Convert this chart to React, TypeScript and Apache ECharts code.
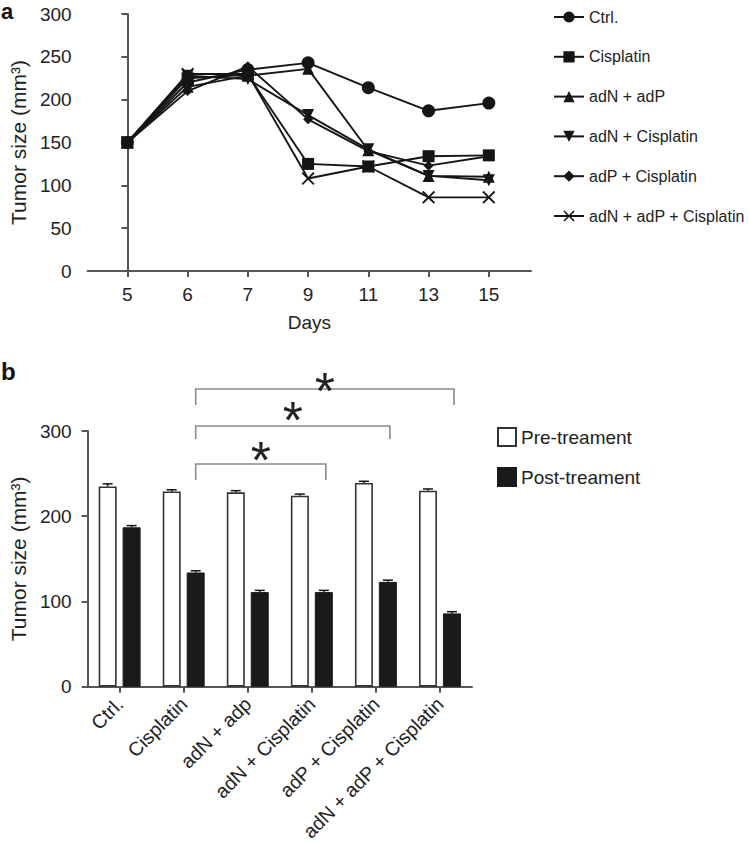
import React, { useEffect, useRef } from "react";
import * as echarts from "echarts";

// ---------- Panel a data ----------
const days = ["5", "6", "7", "9", "11", "13", "15"];
const ctrl = [150, 220, 235, 243, 214, 187, 196];
const cisplatin = [150, 225, 229, 125, 122, 134, 135];
const adNadP = [150, 215, 228, 236, 141, 111, 110];
const adNCis = [150, 228, 224, 182, 142, 111, 106];
const adPCis = [150, 210, 239, 177, 140, 123, 134];
const adNadPCis = [150, 230, 230, 108, 122, 86, 86];

// ---------- Panel b data ----------
const groups = ["Ctrl.", "Cisplatin", "adN + adp", "adN + Cisplatin", "adP + Cisplatin", "adN + adP + Cisplatin"];
const preTreat = [235, 229, 228, 224, 239, 230];
const postTreat = [187, 134, 111, 111, 123, 86];
const preErr = [3, 2, 2, 2, 2, 2];
const postErr = [2, 2, 2, 2, 2, 2];
// significance comparisons: [from group, to group]
const sigPairs = [
  [1, 3],
  [1, 4],
  [1, 5],
];

const FONT = "'Liberation Sans', Arial, Helvetica, sans-serif";
const TXT = "#222";
const AX = "#555";
const INK = "#151515";
const XPATH = "path://M1,0 L5,4 L9,0 L10,1 L6,5 L10,9 L9,10 L5,6 L1,10 L0,9 L4,5 L0,1 Z";

const toPts = (arr: number[]) => arr.map((v, i) => [i, v]);

const lineSeries = (name: string, data: number[], symbol: string, size: number, rotate = 0) => ({
  name,
  type: "line",
  xAxisIndex: 0,
  yAxisIndex: 0,
  data: toPts(data),
  symbol,
  symbolSize: size,
  symbolRotate: rotate,
  showAllSymbol: true,
  lineStyle: { color: INK, width: 1.9 },
  itemStyle: { color: INK, borderColor: INK, borderWidth: 0 },
  emphasis: { disabled: true },
  z: 3,
});

const errSeries = (vals: number[], errs: number[], offset: number) => ({
  type: "custom",
  xAxisIndex: 1,
  yAxisIndex: 1,
  silent: true,
  z: 5,
  data: vals.map((v, i) => [i, v, errs[i]]),
  renderItem: (params: any, api: any) => {
    const i = api.value(0);
    const v = api.value(1);
    const e = api.value(2);
    const p0 = api.coord([i, v]);
    const p1 = api.coord([i, v + e]);
    const x = p0[0] + offset;
    return {
      type: "group",
      children: [
        { type: "line", shape: { x1: x, y1: p0[1], x2: x, y2: p1[1] }, style: { stroke: INK, lineWidth: 1.5 } },
        { type: "line", shape: { x1: x - 5, y1: p1[1], x2: x + 5, y2: p1[1] }, style: { stroke: INK, lineWidth: 1.5 } },
      ],
    };
  },
});

export default function App() {
  const ref = useRef<HTMLDivElement>(null);

  useEffect(() => {
    document.body.style.margin = "0";
    const chart = echarts.init(ref.current as HTMLDivElement, null, { renderer: "svg" });

    const axisLabelStyle = { color: TXT, fontSize: 19, fontFamily: FONT };
    const option: any = {
      animation: false,
      textStyle: { fontFamily: FONT, color: TXT },
      grid: [
        { left: 85, top: 14, width: 446, height: 257 },
        { left: 84, top: 431, width: 388, height: 257 },
      ],
      legend: [
        {
          data: ["Ctrl.", "Cisplatin", "adN + adP", "adN + Cisplatin", "adP + Cisplatin", "adN + adP + Cisplatin"],
          orient: "vertical",
          left: 548,
          top: 4,
          itemWidth: 30,
          itemHeight: 14,
          itemGap: 23.8,
          textStyle: { fontSize: 16, color: TXT, fontFamily: FONT },
          selectedMode: false,
        },
        {
          data: ["Pre-treament", "Post-treament"],
          orient: "vertical",
          left: 492,
          top: 422,
          icon: "rect",
          itemWidth: 18,
          itemHeight: 18,
          itemGap: 20,
          textStyle: { fontSize: 19, color: TXT, fontFamily: FONT },
          selectedMode: false,
        },
      ],
      xAxis: [
        {
          gridIndex: 0,
          type: "value",
          min: -0.66,
          max: 6.7,
          splitLine: { show: false },
          axisLine: { show: true, lineStyle: { color: AX, width: 2 } },
          axisTick: { show: true, length: 6, lineStyle: { color: AX, width: 2 }, customValues: [0, 1, 2, 3, 4, 5, 6] },
          axisLabel: {
            ...axisLabelStyle,
            margin: 14,
            customValues: [0, 1, 2, 3, 4, 5, 6],
            formatter: (v: number) => days[Math.round(v)],
          },
          name: "Days",
          nameLocation: "middle",
          nameGap: 42,
          nameTextStyle: { fontSize: 19, color: TXT, fontFamily: FONT },
        },
        {
          gridIndex: 1,
          type: "category",
          data: groups,
          axisLine: { show: true, lineStyle: { color: AX, width: 2 } },
          axisTick: { show: true, alignWithLabel: true, length: 6, lineStyle: { color: AX, width: 2 } },
          axisLabel: { ...axisLabelStyle, fontSize: 19.5, rotate: 45, interval: 0, margin: 14 },
        },
      ],
      yAxis: [
        {
          gridIndex: 0,
          type: "value",
          min: 0,
          max: 300,
          interval: 50,
          splitLine: { show: false },
          axisLine: { show: true, lineStyle: { color: AX, width: 2 } },
          axisTick: { show: true, length: 6, lineStyle: { color: AX, width: 2 } },
          axisLabel: { ...axisLabelStyle, margin: 16 },
          name: "Tumor size (mm³)",
          nameLocation: "middle",
          nameGap: 54,
          nameTextStyle: { fontSize: 21, color: TXT, fontFamily: FONT },
        },
        {
          gridIndex: 1,
          type: "value",
          min: 0,
          max: 300,
          interval: 100,
          splitLine: { show: false },
          axisLine: { show: true, lineStyle: { color: AX, width: 2 } },
          axisTick: { show: true, length: 6, lineStyle: { color: AX, width: 2 } },
          axisLabel: { ...axisLabelStyle, margin: 16 },
          name: "Tumor size (mm³)",
          nameLocation: "middle",
          nameGap: 54,
          nameTextStyle: { fontSize: 21, color: TXT, fontFamily: FONT },
        },
      ],
      series: [
        lineSeries("Ctrl.", ctrl, "circle", 13),
        lineSeries("Cisplatin", cisplatin, "rect", 12),
        lineSeries("adN + adP", adNadP, "triangle", 12),
        lineSeries("adN + Cisplatin", adNCis, "triangle", 12, 180),
        lineSeries("adP + Cisplatin", adPCis, "diamond", 10),
        lineSeries("adN + adP + Cisplatin", adNadPCis, XPATH, 13),
        {
          name: "Pre-treament",
          type: "bar",
          xAxisIndex: 1,
          yAxisIndex: 1,
          data: preTreat,
          barWidth: 18,
          barGap: "33%",
          itemStyle: { color: "#fff", borderColor: "#333", borderWidth: 1.6 },
          emphasis: { disabled: true },
        },
        {
          name: "Post-treament",
          type: "bar",
          xAxisIndex: 1,
          yAxisIndex: 1,
          data: postTreat,
          barWidth: 18,
          barGap: "33%",
          itemStyle: { color: "#1a1a1a", borderColor: "#1a1a1a", borderWidth: 1 },
          emphasis: { disabled: true },
        },
        errSeries(preTreat, preErr, -12),
        errSeries(postTreat, postErr, 12),
      ],
    };
    chart.setOption(option);

    // significance brackets (annotation layout, in pixel offsets above the 300 line)
    const bracketRise = [-33, 5, 42];
    const legDrop = [16, 13, 16];
    const starRise = [20, 22, 14];
    const graphics: any[] = [
      { type: "text", left: 1, top: 0, style: { text: "a", font: `bold 22px ${FONT}`, fill: "#111" } },
      { type: "text", left: 1, top: 359, style: { text: "b", font: `bold 24px ${FONT}`, fill: "#111" } },
    ];
    sigPairs.forEach(([a, b], k) => {
      const top300 = chart.convertToPixel({ xAxisIndex: 1, yAxisIndex: 1 } as any, [a, 300]) as number[];
      const pa = chart.convertToPixel({ xAxisIndex: 1, yAxisIndex: 1 } as any, [a, 0]) as number[];
      const pb = chart.convertToPixel({ xAxisIndex: 1, yAxisIndex: 1 } as any, [b, 0]) as number[];
      const x1 = pa[0] + 12;
      const x2 = pb[0] + 14;
      const y = top300[1] - bracketRise[k];
      const yl = y + legDrop[k];
      graphics.push({
        type: "polyline",
        shape: { points: [[x1, yl], [x1, y], [x2, y], [x2, yl]] },
        style: { stroke: "#8a8a8a", lineWidth: 1.6, fill: "none" },
        silent: true,
      });
      graphics.push({
        type: "text",
        x: (x1 + x2) / 2,
        y: y - starRise[k] + 16,
        style: { text: "*", font: `52px ${FONT}`, fill: "#222", align: "center", verticalAlign: "middle" },
        silent: true,
      });
    });
    chart.setOption({ graphic: graphics });

    return () => chart.dispose();
  }, []);

  return <div ref={ref} style={{ width: 750, height: 844 }} />;
}
